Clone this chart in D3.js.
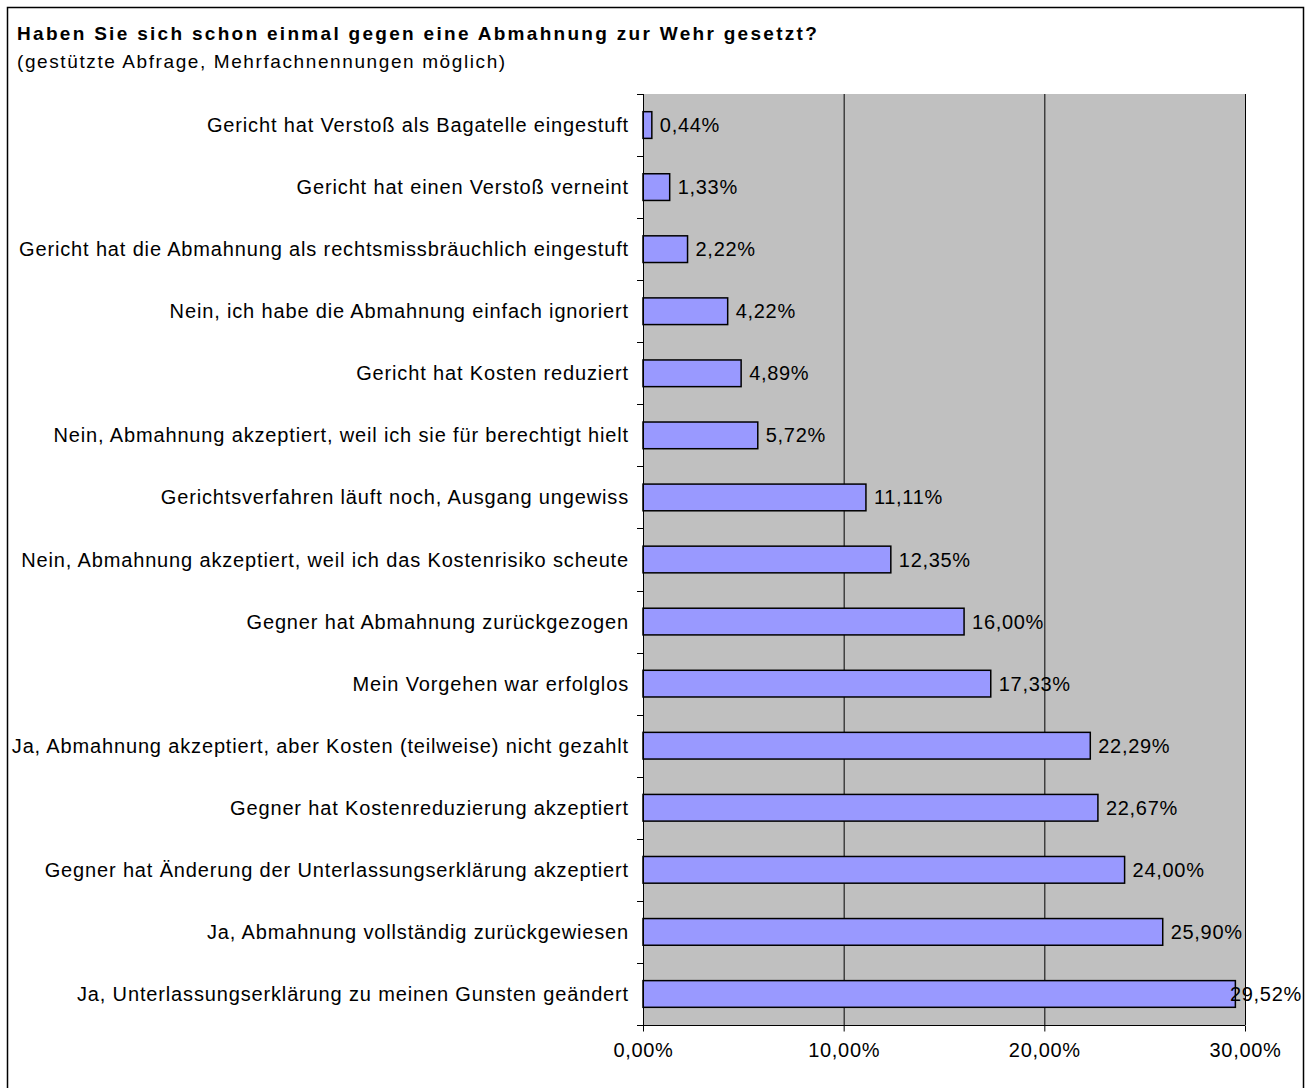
<!DOCTYPE html>
<html>
<head>
<meta charset="utf-8">
<script src="https://cdn.jsdelivr.net/npm/d3@7"></script>
<style>
body { margin: 0; background: #fff; }
text { font-family: "Liberation Sans", Arial, sans-serif; fill: #000; }
</style>
</head>
<body>
<div id="chart"></div>
<script>
var categories = [
    "Gericht hat Verstoß als Bagatelle eingestuft",
    "Gericht hat einen Verstoß verneint",
    "Gericht hat die Abmahnung als rechtsmissbräuchlich eingestuft",
    "Nein, ich habe die Abmahnung einfach ignoriert",
    "Gericht hat Kosten reduziert",
    "Nein, Abmahnung akzeptiert, weil ich sie für berechtigt hielt",
    "Gerichtsverfahren läuft noch, Ausgang ungewiss",
    "Nein, Abmahnung akzeptiert, weil ich das Kostenrisiko scheute",
    "Gegner hat Abmahnung zurückgezogen",
    "Mein Vorgehen war erfolglos",
    "Ja, Abmahnung akzeptiert, aber Kosten (teilweise) nicht gezahlt",
    "Gegner hat Kostenreduzierung akzeptiert",
    "Gegner hat Änderung der Unterlassungserklärung akzeptiert",
    "Ja, Abmahnung vollständig zurückgewiesen",
    "Ja, Unterlassungserklärung zu meinen Gunsten geändert"
]
var values = [0.44, 1.33, 2.22, 4.22, 4.89, 5.72, 11.11, 12.35, 16.00, 17.33, 22.29, 22.67, 24.00, 25.90, 29.52]
var xTicks = [0, 10, 20, 30]
var title = "Haben Sie sich schon einmal gegen eine Abmahnung zur Wehr gesetzt?"
var subtitle = "(gestützte Abfrage, Mehrfachnennungen möglich)"

var width = 1306
var height = 1088
var margin = { top: 94, right: 61, bottom: 63, left: 643 }

var svg = d3.select("#chart").append("svg").attr("width", width).attr("height", height)

svg.append("rect").attr("x", 7.5).attr("y", 7.5).attr("width", 1296).attr("height", 1100)
    .attr("fill", "#fff").attr("stroke", "#000").attr("stroke-width", 1.5)

svg.append("text").attr("x", 17).attr("y", 40).text(title)
    .style("font-weight", "bold").style("font-size", "19px").style("letter-spacing", "2.3px")
svg.append("text").attr("x", 17).attr("y", 68).text(subtitle)
    .style("font-size", "19px").style("letter-spacing", "1.6px")

var x = d3.scaleLinear().domain([0, 30]).range([margin.left, width - margin.right])
var y = d3.scaleBand().domain(categories).range([margin.top, height - margin.bottom])

var fmt = function(v) { return d3.format(".2f")(v).replace(".", ",") + "%" }

// plot background
svg.append("rect").attr("x", x(0)).attr("y", y.range()[0])
    .attr("width", x(30) - x(0)).attr("height", y.range()[1] - y.range()[0])
    .attr("fill", "#c0c0c0")

// gridlines
svg.selectAll(".grid").data(xTicks.slice(1)).enter().append("line").attr("class", "grid")
    .attr("x1", function(d) { return x(d) + 0.5 }).attr("x2", function(d) { return x(d) + 0.5 })
    .attr("y1", y.range()[0]).attr("y2", y.range()[1])
    .attr("stroke", "#000").attr("stroke-width", 1)

// bars
var barH = y.bandwidth() * 0.43
svg.selectAll(".bar").data(values).enter().append("rect").attr("class", "bar")
    .attr("x", x(0))
    .attr("y", function(d, i) { return y(categories[i]) + (y.bandwidth() - barH) / 2 })
    .attr("width", function(d) { return x(d) - x(0) })
    .attr("height", barH)
    .attr("fill", "#9999ff").attr("stroke", "#000").attr("stroke-width", 1.5)

// value labels
svg.selectAll(".val").data(values).enter().append("text").attr("class", "val")
    .attr("y", function(d, i) { return y(categories[i]) + y.bandwidth() / 2 + 7 })
    .style("font-size", "20px").style("letter-spacing", "0.7px")
    .text(function(d) { return fmt(d) })
    .attr("x", function(d) {
        var w = this.getComputedTextLength()
        return Math.min(x(d) + 8, 1302 - w)
    })

// category axis
var yAxis = svg.append("g")
yAxis.append("line").attr("x1", x(0) + 0.5).attr("x2", x(0) + 0.5)
    .attr("y1", y.range()[0]).attr("y2", y.range()[1] + 6).attr("stroke", "#000")
var bounds = categories.map(function(c) { return y(c) }).concat([y.range()[1]])
yAxis.selectAll(".ytick").data(bounds).enter().append("line").attr("class", "ytick")
    .attr("x1", x(0) - 6).attr("x2", x(0))
    .attr("y1", function(d) { return Math.round(d) + 0.5 }).attr("y2", function(d) { return Math.round(d) + 0.5 })
    .attr("stroke", "#000")
yAxis.selectAll(".ylab").data(categories).enter().append("text").attr("class", "ylab")
    .attr("x", 629).attr("y", function(d) { return y(d) + y.bandwidth() / 2 + 7 })
    .attr("text-anchor", "end").style("font-size", "20px").style("letter-spacing", "0.85px")
    .text(function(d) { return d })

// value axis
var xAxis = svg.append("g").attr("transform", "translate(0," + (y.range()[1] + 0.5) + ")")
    .call(d3.axisBottom(x).tickValues(xTicks).tickSize(6).tickPadding(11).tickFormat(function(d) { return fmt(d) }))
xAxis.select(".domain").attr("d", "M" + (x(0) - 6) + ",0H" + x(30))
xAxis.selectAll("text").style("font-size", "20px").style("letter-spacing", "0.7px")
    .style("font-family", "Liberation Sans, Arial, sans-serif").attr("fill", "#000")
xAxis.selectAll("line").attr("stroke", "#000")
</script>
</body>
</html>
